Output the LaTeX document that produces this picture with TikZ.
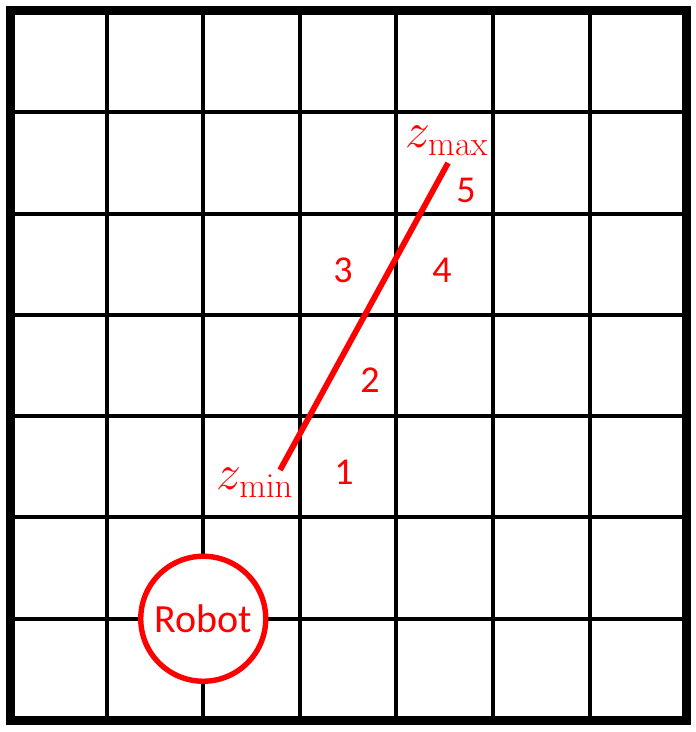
\documentclass[tikz,border=0pt]{standalone}
\usepackage[no-math]{fontspec}
\setmainfont{Carlito}
\usepackage{tikz}

\begin{document}
\begin{tikzpicture}[x=48.3pt,y=50.65pt]
\tikzset{lbl/.style={text=red,inner sep=0pt,font=\fontsize{19}{22}\selectfont},
         zlbl/.style={text=red,inner sep=0pt,font=\fontsize{27}{30}\selectfont}}
\useasboundingbox (-0.104,-0.118) rectangle (7.091,7.108);
\foreach \i in {1,...,6} {
  \draw[line width=2pt] (\i,0) -- (\i,7);
  \draw[line width=2pt] (0,\i) -- (7,\i);
}
\draw[line width=4.5pt] (0,0) rectangle (7,7);
\node[circle,draw=red,fill=white,line width=2.7pt,minimum size=62.5pt,inner sep=0pt,
      text=red,font=\fontsize{20}{24}\selectfont] (robot) at (2,1) {Robot};
\coordinate (zlo) at (2.795,2.468);
\coordinate (zhi) at (4.534,5.499);
\draw[red,line width=2.9pt] (zlo) -- (zhi);
\node[zlbl] (zmin) at (2.536,2.34) {$z_{\mathrm{min}}$};
\node[zlbl] (zmax) at (4.524,5.72) {$z_{\mathrm{max}}$};
\node[lbl] (c1) at (3.458,2.448) {1};
\node[lbl] (c2) at (3.727,3.356) {2};
\node[lbl] (c3) at (3.447,4.442) {3};
\node[lbl] (c4) at (4.472,4.442) {4};
\node[lbl] (c5) at (4.72,5.232) {5};
\end{tikzpicture}
\end{document}
